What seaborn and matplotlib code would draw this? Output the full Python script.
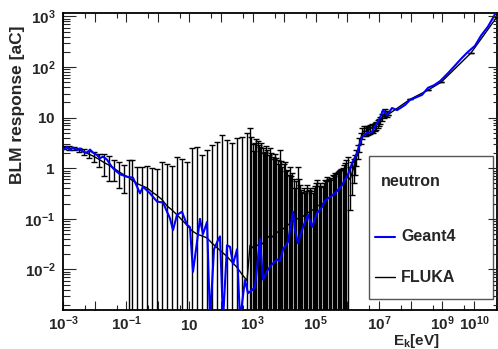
import numpy as np
import matplotlib
matplotlib.use('Agg')
import matplotlib.pyplot as plt
import seaborn as sns
from matplotlib.ticker import FixedLocator, FixedFormatter, LogLocator, NullFormatter
from matplotlib.patches import Rectangle

# ---------------- data ----------------
fluka_energy = [
    1.08e-3, 1.55e-3, 2.23e-3, 3.2e-3, 4.6e-3, 6.65e-3, 9.6e-3, 1.38e-2, 1.98e-2, 2.86e-2,
    4.1e-2, 5.9e-2, 8.5e-2, 0.123,
    0.153, 0.22, 0.316, 0.455, 0.655, 0.944, 1.36, 1.95, 2.81, 4.05, 5.83, 8.4, 12.1, 17.4,
    25.1, 36.1, 51.9, 74.7, 108, 155, 223, 321, 462, 665,
    828, 906, 993, 1090, 1190, 1300, 1430, 1560, 1710, 1880,
    2060, 2260, 2470, 2700, 2960, 3250, 3560, 3900, 4270, 4680,
    5120, 5610, 6140, 6720, 7360, 8060, 8830, 9680, 1.06e4, 1.16e4,
    1.27e4, 1.39e4, 1.53e4, 1.67e4, 1.83e4, 2.01e4, 2.20e4, 2.41e4, 2.64e4, 2.89e4,
    3.16e4, 3.46e4, 3.79e4, 4.15e4, 4.55e4, 4.98e4, 5.46e4, 5.98e4, 6.55e4, 7.18e4,
    7.87e4, 8.62e4, 9.44e4, 1.03e5, 1.13e5, 1.24e5, 1.36e5, 1.49e5, 1.63e5, 1.78e5,
    1.95e5, 2.14e5, 2.34e5, 2.56e5, 2.81e5, 3.08e5, 3.38e5, 3.70e5, 4.05e5, 4.44e5,
    4.86e5, 5.32e5, 5.83e5, 6.39e5, 7.0e5, 7.67e5, 8.4e5, 9.2e5, 1.01e6,
    1.21e6, 1.40e6, 1.56e6, 1.74e6, 1.94e6, 2.16e6, 2.41e6, 2.69e6, 3.0e6, 3.35e6, 3.74e6,
    4.17e6, 4.65e6, 5.19e6, 5.79e6, 6.46e6, 7.21e6, 8.04e6, 8.97e6, 1.0e7, 1.11e7, 1.24e7,
    1.39e7, 1.55e7, 1.73e7,
    1.93e7, 9.6e7, 3.56e8, 9.2e8, 8.15e9, 5.4e10]
fluka_response = [
    2.6, 2.5, 2.45, 2.3, 2.1, 1.9, 1.7, 1.5, 1.3, 1.15, 1.0, 0.85, 0.74, 0.65,
    0.58, 0.5, 0.45, 0.41, 0.34, 0.29, 0.24, 0.18, 0.15, 0.12, 0.095, 0.075, 0.058, 0.05,
    0.046, 0.042, 0.033, 0.027, 0.022, 0.018, 0.014, 0.011, 0.008, 0.006,
    0.030, 0.027, 0.028, 0.025, 0.026, 0.029, 0.030, 0.031, 0.034, 0.033,
    0.032, 0.036, 0.038, 0.040, 0.042, 0.045, 0.046, 0.045, 0.044, 0.048,
    0.050, 0.052, 0.055, 0.056, 0.058, 0.060, 0.062, 0.065, 0.068, 0.072,
    0.075, 0.078, 0.080, 0.085, 0.088, 0.091, 0.095, 0.098, 0.10, 0.105,
    0.11, 0.11, 0.11, 0.115, 0.12, 0.125, 0.13, 0.135, 0.14, 0.145,
    0.15, 0.155, 0.16, 0.17, 0.18, 0.185, 0.19, 0.195, 0.20, 0.21,
    0.23, 0.24, 0.25, 0.26, 0.27, 0.28, 0.30, 0.31, 0.33, 0.35,
    0.37, 0.39, 0.42, 0.44, 0.47, 0.51, 0.55, 0.61, 0.68,
    0.6, 0.8, 1.0, 1.3, 1.7, 2.2, 3.0, 4.0, 5.0, 5.5, 5.3, 5.8, 5.5, 6.0, 6.3, 6.0, 6.6,
    7.0, 7.5, 8.2, 9.0, 10.0, 11.5, 13.0, 12.0,
    11.5, 23, 35, 50, 190, 980]
# upper end of each FLUKA error bar (symmetric errors)
fluka_upper = [
    2.75, 2.7, 2.65, 2.55, 2.4, 2.2, 2.05, 1.95, 1.9, 1.75, 1.45, 1.3, 1.16, 1.45,
    1.45, 1.06, 1.06, 1.1, 1.0, 0.98, 1.3, 1.2, 1.1, 1.65, 1.5, 1.35, 2.5, 2.6,
    1.8, 2.3, 2.9, 3.3, 4.5, 3.6, 3.1, 4.0, 4.2, 5.0,
    6.2, 4.1, 3.0, 2.2, 3.1, 3.8, 3.4, 2.9, 2.6, 3.2,
    2.5, 2.0, 2.1, 2.8, 2.3, 1.8, 2.5, 2.0, 1.7, 1.5,
    1.9, 1.6, 1.45, 1.2, 2.3, 1.4, 1.07, 1.2, 1.3, 0.9,
    0.93, 0.75, 1.07, 0.7, 0.8, 0.6, 0.41, 0.55, 1.07, 0.6,
    0.47, 0.38, 0.34, 0.4, 0.33, 0.36, 0.47, 0.38, 0.41, 0.36,
    0.33, 0.4, 0.45, 0.52, 0.59, 0.45, 0.5, 0.45, 0.43, 0.5,
    0.59, 0.55, 0.67, 0.6, 0.59, 0.65, 0.74, 0.7, 0.8, 0.78,
    0.85, 0.88, 0.93, 0.95, 1.0, 1.15, 1.27, 1.45, 1.67,
    1.05, 1.3, 1.5, 1.85, 2.3, 2.9, 3.9, 5.0, 6.2, 6.7, 6.3, 6.9, 6.5, 7.2, 7.4, 7.0, 7.8,
    8.2, 8.8, 9.6, 10.5, 11.6, 13.3, 15.0, 13.5,
    11.5, 23, 35, 50, 190, 980]

geant4_energy = [
    1.00e-3, 1.34e-3, 1.67e-3, 2.07e-3, 2.77e-3, 3.45e-3, 4.30e-3, 5.74e-3, 7.14e-3, 8.89e-3,
    1.19e-2, 1.48e-2, 1.85e-2, 2.47e-2, 3.07e-2, 3.82e-2, 5.12e-2, 6.37e-2, 0.106, 0.164,
    0.273, 0.340, 0.566, 0.944, 1.46, 2.43, 3.03, 4.05, 5.83, 8.4,
    10.4, 13.0, 17.4, 21.6, 26.9, 36.1, 44.9, 60.0, 80.4, 92.9,
    116, 155, 193, 240, 321, 399, 574, 715, 957, 1190,
    1710, 2130, 3070, 4110, 5920, 7360, 9170, 1.32e4, 1.90e4, 2.20e4,
    2.73e4, 3.94e4, 5.66e4, 7.59e4, 1.09e5, 1.57e5, 1.95e5, 2.81e5, 4.05e5, 5.83e5,
    7.26e5, 1.04e6, 1.40e6, 2.01e6, 2.90e6, 4.17e6, 6.0e6, 8.65e6, 1.08e7, 1.34e7,
    1.79e7, 2.58e7, 3.72e7, 6.65e7, 9.58e7, 1.48e8, 2.30e8, 3.56e8, 5.51e8, 8.51e8,
    1.53e9, 2.54e9, 3.94e9, 6.55e9, 1.09e10, 1.69e10, 2.81e10, 5.05e10]
geant4_response = [
    2.29, 2.63, 2.29, 2.57, 2.29, 2.45, 2.14, 2.0, 2.34, 2.04,
    1.82, 1.58, 1.70, 1.48, 1.20, 1.0, 0.85, 0.76, 0.68, 0.65,
    0.32, 0.43, 0.32, 0.22, 0.21, 0.102, 0.060, 0.12, 0.138, 0.076,
    0.069, 0.009, 0.035, 0.10, 0.05, 0.087, 0.001, 0.025, 0.038, 0.045,
    0.001, 0.03, 0.028, 0.0126, 0.025, 0.001, 0.0062, 0.0034, 0.0039, 0.0045,
    0.04, 0.0063, 0.01, 0.0126, 0.0158, 0.0145, 0.025, 0.035, 0.138, 0.06,
    0.033, 0.069, 0.12, 0.069, 0.13, 0.17, 0.23, 0.27, 0.32, 0.41,
    0.51, 0.74, 1.26, 2.0, 4.2, 5.0, 5.2, 7.9, 10, 14.1,
    11.2, 15.5, 14.1, 17.8, 22.4, 25.1, 28.2, 38.9, 43.7, 52.5,
    75.9, 107, 145, 200, 263, 417, 631, 1200]

x_major_ticks = [1e-3, 1e-2, 1e-1, 1e0, 1e1, 1e2, 1e3, 1e4, 1e5, 1e6, 1e7, 1e8, 1e9, 1e10]
x_tick_labels = [r'$10^{-3}$', '', r'$10^{-1}$', '', r'$10$', '', r'$10^{3}$', '',
                 r'$10^{5}$', '', r'$10^{7}$', '', r'$10^{9}$', r'$10^{10}$']
y_major_ticks = [1e-2, 1e-1, 1e0, 1e1, 1e2, 1e3]
y_tick_labels = [r'$10^{-2}$', r'$10^{-1}$', r'$1$', r'$10$', r'$10^{2}$', r'$10^{3}$']

legend_title = 'neutron'
series_names = ['Geant4', 'FLUKA']
x_title = r'$E_{k}$[eV]'
y_title = 'BLM response [aC]'

# ---------------- style ----------------
sns.set_style('white')
plt.rcParams['font.family'] = ['Liberation Sans', 'DejaVu Sans']
plt.rcParams['font.weight'] = 'bold'
plt.rcParams['mathtext.fontset'] = 'custom'
plt.rcParams['mathtext.rm'] = 'Liberation Sans:bold'
plt.rcParams['mathtext.it'] = 'Liberation Sans:bold'
plt.rcParams['mathtext.bf'] = 'Liberation Sans:bold'
plt.rcParams['mathtext.default'] = 'rm'

W, H = 498, 349
fig = plt.figure(figsize=(W / 100, H / 100), dpi=100)
L, R, T, B = 63, 497, 13, 310
ax = fig.add_axes([L / W, 1 - B / H, (R - L) / W, (B - T) / H])
ax.set_xscale('log')
ax.set_yscale('log')

fv = np.array(fluka_response)
fu = np.array(fluka_upper)
err_up = fu - fv
low = 2 * fv - fu
low = np.where(low > 0, low, 1e-9)
err_lo = fv - low
ax.errorbar(fluka_energy, fluka_response, yerr=[err_lo, err_up], fmt='none',
            ecolor='black', elinewidth=1.0, capsize=2.4, capthick=1.0, zorder=2)
sns.lineplot(x=fluka_energy, y=fluka_response, ax=ax, color='black', lw=1.0,
             estimator=None, sort=False, zorder=3)
sns.lineplot(x=geant4_energy, y=geant4_response, ax=ax, color='#0000ff', lw=1.5,
             estimator=None, sort=False, zorder=4)

ax.set_xlim(1e-3, 5.42e10)
ax.set_ylim(1.58e-3, 1.17e3)

ax.xaxis.set_major_locator(FixedLocator(x_major_ticks))
ax.xaxis.set_major_formatter(FixedFormatter(x_tick_labels))
ax.xaxis.set_minor_locator(LogLocator(base=10, subs=[5.0], numticks=40))
ax.xaxis.set_minor_formatter(NullFormatter())
ax.yaxis.set_major_locator(FixedLocator(y_major_ticks))
ax.yaxis.set_major_formatter(FixedFormatter(y_tick_labels))
ax.yaxis.set_minor_locator(LogLocator(base=10, subs=np.arange(2, 10), numticks=40))
ax.yaxis.set_minor_formatter(NullFormatter())

ax.tick_params(axis='x', which='major', direction='in', length=6.5, width=0.8,
               top=True, bottom=True, pad=14.3, labelsize=11)
ax.tick_params(axis='x', which='minor', direction='in', length=3.3, width=0.8,
               top=True, bottom=True)
ax.tick_params(axis='y', which='major', direction='in', length=9.4, width=0.8,
               left=True, right=False, pad=5.5, labelsize=11)
ax.tick_params(axis='y', which='minor', direction='in', length=4.8, width=0.8,
               left=True, right=False)
for t in ax.xaxis.get_major_ticks():
    t.label1.set_verticalalignment('baseline')

for s in ax.spines.values():
    s.set_linewidth(1.3)
    s.set_color('black')

ax2 = ax.twinx()
ax2.set_yscale('log')
ax2.set_ylim(ax.get_ylim())
ax2.yaxis.set_major_locator(FixedLocator(y_major_ticks))
ax2.yaxis.set_minor_locator(LogLocator(base=10, subs=np.arange(2, 10), numticks=40))
ax2.yaxis.set_major_formatter(NullFormatter())
ax2.yaxis.set_minor_formatter(NullFormatter())
ax2.tick_params(axis='y', which='major', direction='in', length=6.5, width=0.8)
ax2.tick_params(axis='y', which='minor', direction='in', length=3.0, width=0.8)
for s in ax2.spines.values():
    s.set_visible(False)

# legend box (drawn in axes fraction)
ax.add_patch(Rectangle((0.705, 0.037), 0.286, 0.482, transform=ax.transAxes,
                       facecolor='white', edgecolor='#555555', lw=1.0, zorder=10))
ax.text(0.733, 0.434, legend_title, transform=ax.transAxes, ha='left', va='center',
        fontsize=11.5, fontweight='bold', zorder=11)
ax.plot([0.719, 0.765], [0.246, 0.246], transform=ax.transAxes, color='#0000ff',
        lw=1.5, zorder=11)
ax.text(0.779, 0.246, series_names[0], transform=ax.transAxes, ha='left', va='center',
        fontsize=11.5, fontweight='bold', zorder=11)
ax.plot([0.719, 0.765], [0.111, 0.111], transform=ax.transAxes, color='black',
        lw=1.0, zorder=11)
ax.text(0.779, 0.111, series_names[1], transform=ax.transAxes, ha='left', va='center',
        fontsize=11.5, fontweight='bold', zorder=11)

ax.set_xlim(1e-3, 5.42e10)
ax.set_ylim(1.58e-3, 1.17e3)

fig.text(18 / W, 1 - 25 / H, y_title, rotation=90, ha='center', va='top',
         fontsize=12.5, fontweight='bold')
fig.text(440 / W, 1 - 345.5 / H, x_title, ha='right', va='baseline',
         fontsize=11, fontweight='bold')

fig.savefig('out.png', dpi=100)
